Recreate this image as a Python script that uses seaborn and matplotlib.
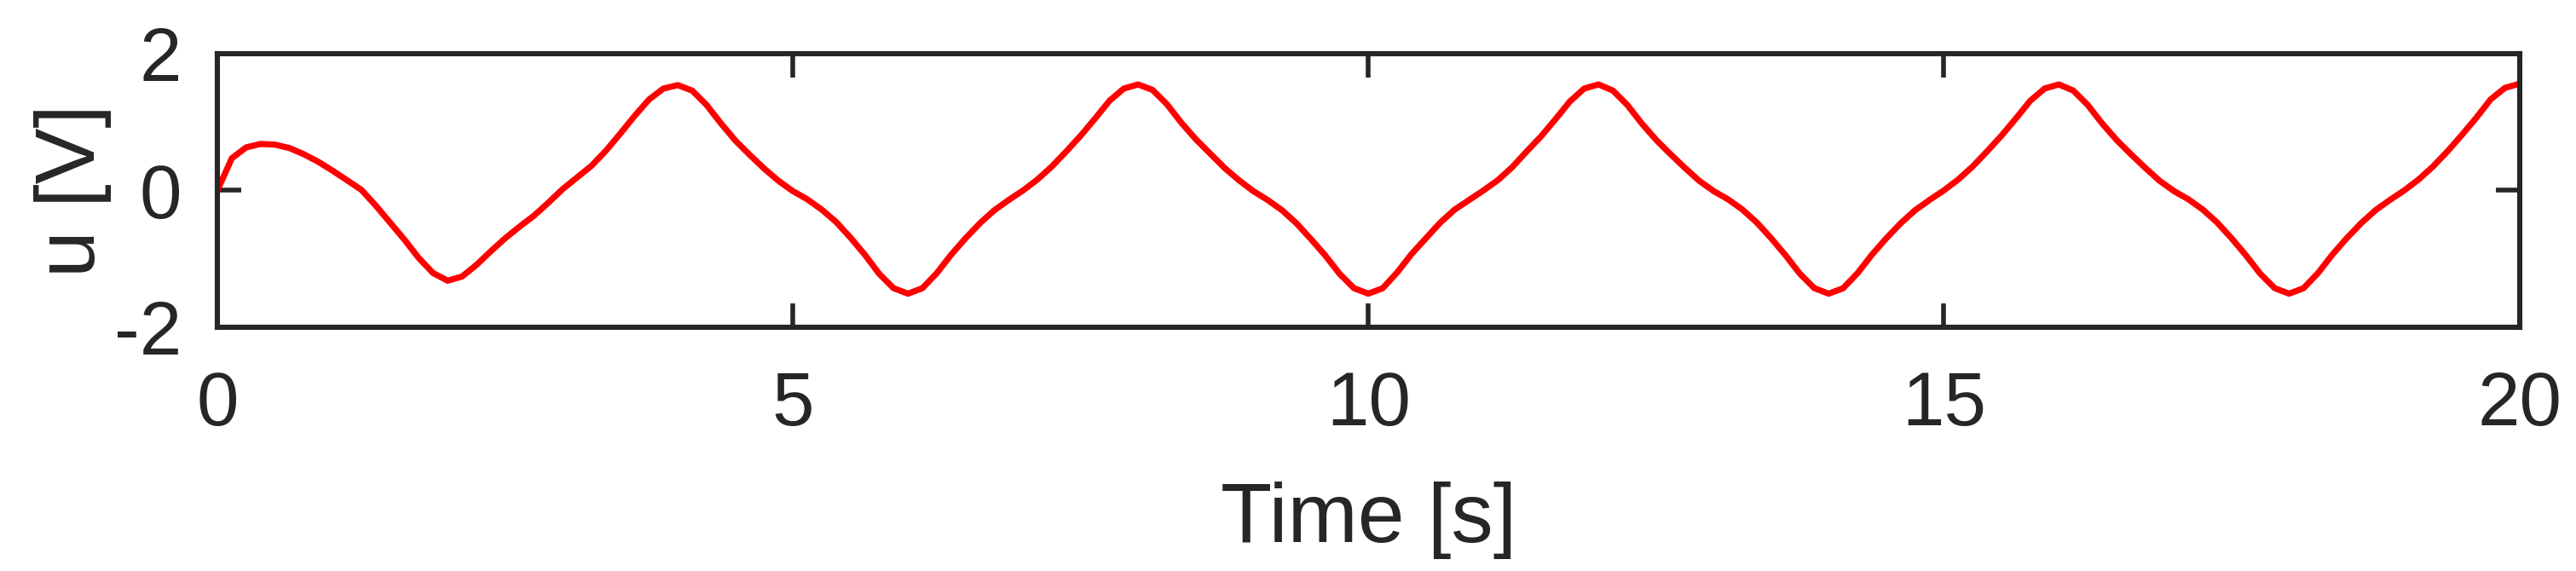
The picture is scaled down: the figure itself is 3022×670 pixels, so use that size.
import numpy as np
import pandas as pd
import matplotlib
matplotlib.use("Agg")
import matplotlib.pyplot as plt
import seaborn as sns

# values, one sample every 0.125 s
time_s = np.arange(0, 20.0001, 0.125)

u_0_4 = [0.00, 0.47, 0.63, 0.68, 0.67, 0.62, 0.53, 0.42,
         0.29, 0.15, 0.01, -0.22, -0.47, -0.72, -0.99, -1.21,
         -1.32, -1.26, -1.09, -0.89, -0.70, -0.53, -0.37, -0.18,
         0.02, 0.19, 0.36, 0.58, 0.83, 1.09, 1.33, 1.49]
u_4_8 = [1.54, 1.46, 1.25, 0.98, 0.73, 0.52, 0.32, 0.14,
         -0.01, -0.13, -0.28, -0.46, -0.69, -0.94, -1.22, -1.43,
         -1.51, -1.43, -1.21, -0.94, -0.70, -0.48, -0.29, -0.14,
         0.00, 0.16, 0.35, 0.57, 0.80, 1.05, 1.31, 1.49]
u_8_12 = [1.55, 1.47, 1.26, 0.99, 0.75, 0.54, 0.33, 0.15,
          -0.01, -0.14, -0.29, -0.48, -0.71, -0.95, -1.22, -1.43,
          -1.51, -1.43, -1.20, -0.93, -0.70, -0.47, -0.28, -0.14,
          0.00, 0.15, 0.34, 0.57, 0.79, 1.04, 1.30, 1.49]
u_12_16 = [1.55, 1.46, 1.25, 0.98, 0.74, 0.53, 0.33, 0.14,
           -0.01, -0.13, -0.28, -0.47, -0.70, -0.95, -1.22, -1.43,
           -1.51, -1.43, -1.21, -0.94, -0.70, -0.48, -0.29, -0.14,
           0.00, 0.16, 0.35, 0.57, 0.80, 1.05, 1.31, 1.49]
u_16_20 = [1.55, 1.46, 1.25, 0.98, 0.74, 0.53, 0.33, 0.14,
           -0.01, -0.13, -0.28, -0.47, -0.70, -0.95, -1.22, -1.43,
           -1.51, -1.43, -1.21, -0.94, -0.70, -0.48, -0.29, -0.14,
           0.00, 0.16, 0.35, 0.57, 0.81, 1.06, 1.33, 1.50]
u_end = [1.56]

x_ticks = [0, 5, 10, 15, 20]
y_ticks = [-2, 0, 2]

u_volts = u_0_4 + u_4_8 + u_8_12 + u_12_16 + u_16_20 + u_end
df = pd.DataFrame({"t": time_s, "u": u_volts})

sns.set_theme(style="white")
dark = "#262626"
plt.rcParams["font.family"] = ["Liberation Sans", "DejaVu Sans"]
plt.rcParams["axes.unicode_minus"] = False
plt.rcParams["axes.edgecolor"] = dark
plt.rcParams["text.color"] = dark
plt.rcParams["xtick.color"] = dark
plt.rcParams["ytick.color"] = dark

fig = plt.figure(figsize=(15.11, 3.35), dpi=200)
ax = fig.add_axes([0.0844, 0.427, 0.8936, 0.479])

sns.lineplot(data=df, x="t", y="u", color="red", linewidth=2.6, ax=ax)
ax.lines[0].set_solid_joinstyle("round")

ax.set_xlim(0, 20)
ax.set_ylim(-2, 2)
ax.set_xticks(x_ticks)
ax.set_yticks(y_ticks)
ax.tick_params(direction="in", length=10, width=2.0, labelsize=32,
               top=True, right=True, bottom=True, left=True)
ax.tick_params(axis="x", pad=18)
ax.tick_params(axis="y", pad=15)
for sp in ax.spines.values():
    sp.set_linewidth(2.2)
    sp.set_visible(True)

ax.set_xlabel("Time [s]", fontsize=35.5)
ax.set_ylabel("u [V]", fontsize=35.5)
ax.xaxis.set_label_coords(0.5, -0.565)
ax.yaxis.set_label_coords(-0.046, 0.5)

fig.savefig("out.png", dpi=200)
